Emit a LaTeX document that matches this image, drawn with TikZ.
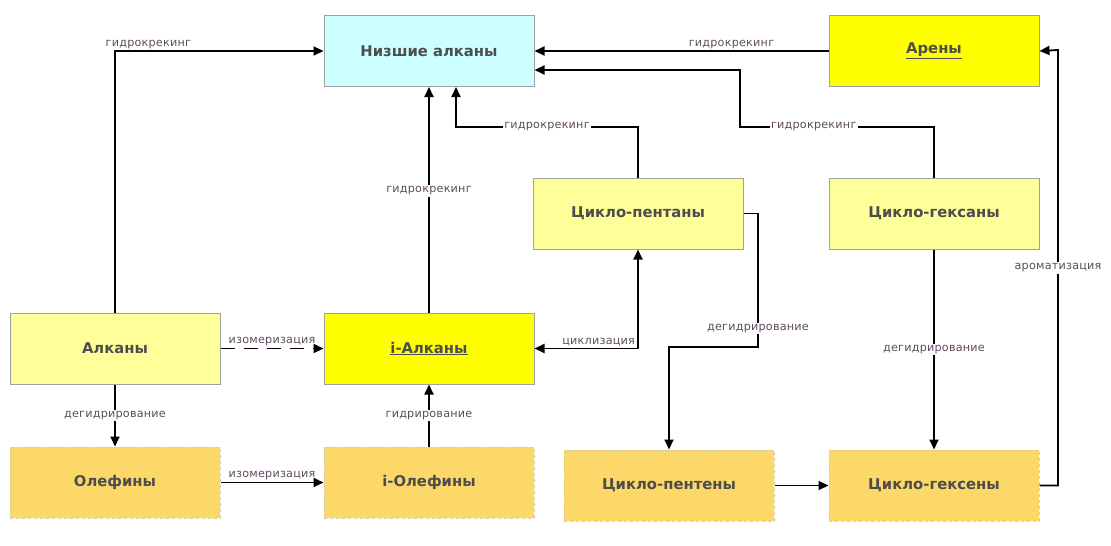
\documentclass[tikz,border=0pt]{standalone}
\usepackage{fontspec}
\setmainfont{DejaVu Sans}
\newfontfamily\lblfont[LetterSpace=2]{DejaVu Sans}
\usetikzlibrary{arrows.meta}

\definecolor{lowfill}{RGB}{204,255,255}
\definecolor{keyfill}{RGB}{255,255,0}
\definecolor{palefill}{RGB}{255,255,153}
\definecolor{olefill}{RGB}{252,216,104}
\definecolor{boxline}{RGB}{160,160,160}
\definecolor{oleline}{RGB}{215,205,165}
\definecolor{titletext}{RGB}{77,77,77}
\definecolor{lbltext}{RGB}{95,75,95}

\begin{document}
\begin{tikzpicture}[
    x=1pt, y=-1pt,
    block/.style={
      rectangle,
      draw=boxline,
      line width=1pt,
      align=center,
      minimum height=71pt,
      minimum width=210pt,
      text=titletext,
      font=\fontsize{14.8}{17}\selectfont\bfseries
    },
    olebox/.style={block, fill=olefill, draw=oleline, dashed},
    conn/.style={line width=1.8pt, -{Triangle[length=10pt,width=9pt]}},
    lbl/.style={font=\lblfont\fontsize{11.2}{13}\selectfont, text=lbltext, inner sep=1.5pt},
    onlbl/.style={lbl, fill=white},
]
\useasboundingbox (0,0) rectangle (1111,546);

\node[block, fill=lowfill] (low) at (429,51) {Низшие алканы};
\node[block, fill=keyfill] (are) at (934,51) {\underline{Арены}};
\node[block, fill=palefill] (cpa) at (638,213.5) {Цикло-пентаны};
\node[block, fill=palefill] (chx) at (934,213.5) {Цикло-гексаны};
\node[block, fill=palefill] (alk) at (115,348.5) {Алканы};
\node[block, fill=keyfill] (ialk) at (429,348.5) {\underline{i-Алканы}};
\node[olebox] (ole) at (115,482.5) {Олефины};
\node[olebox] (iole) at (429,482.5) {i-Олефины};
\node[olebox] (cpe) at (669,485.5) {Цикло-пентены};
\node[olebox] (chxe) at (934,485.5) {Цикло-гексены};

\coordinate (k1) at (456,127);
\coordinate (k2) at (740,127);
\coordinate (k3) at (758,347);
\coordinate (k4) at (1058,50);

% hydrocracking to the light alkanes
\draw[conn] (alk.north) |- node[lbl, above, pos=0.58] {гидрокрекинг} (low.west);
\draw[conn] (ialk.north) -- node[onlbl, pos=0.54] {гидрокрекинг} (low.south);
\draw[conn] (cpa.north) |- node[onlbl, pos=0.75] {гидрокрекинг} (k1) -- (k1 |- low.south);
\draw[conn] (are.west) -- node[lbl, above, pos=0.33] {гидрокрекинг} (low.east);
\draw[conn] (chx.north) |- node[onlbl, pos=0.81] {гидрокрекинг} (k2) |- ([yshift=-19pt]low.east);

\draw[conn, dash pattern=on 14pt off 9pt] (alk.east) -- node[lbl, above] {изомеризация} (ialk.west);
\draw[conn] (alk.south) -- node[onlbl] {дегидрирование} (ole.north);
\draw[conn] (ole.east) -- node[lbl, above] {изомеризация} (iole.west);
\draw[conn] (iole.north) -- node[onlbl] {гидрирование} (ialk.south);
\draw[conn, {Triangle[length=10pt,width=9pt]}-{Triangle[length=10pt,width=9pt]}] (ialk.east) -| node[lbl, above, pos=0.31] {циклизация} (cpa.south);

% cyclic branch
\draw[conn] (cpa.east) -| node[onlbl, pos=0.93] {дегидрирование} (k3) -| (cpe.north);
\draw[conn] (cpe.east) -- (chxe.west);
\draw[conn] (chx.south) -- node[onlbl] {дегидрирование} (chxe.north);
\draw[conn] (chxe.east) -| node[onlbl, pos=0.75] {ароматизация} (k4) -- (are.east);

\end{tikzpicture}
\end{document}
